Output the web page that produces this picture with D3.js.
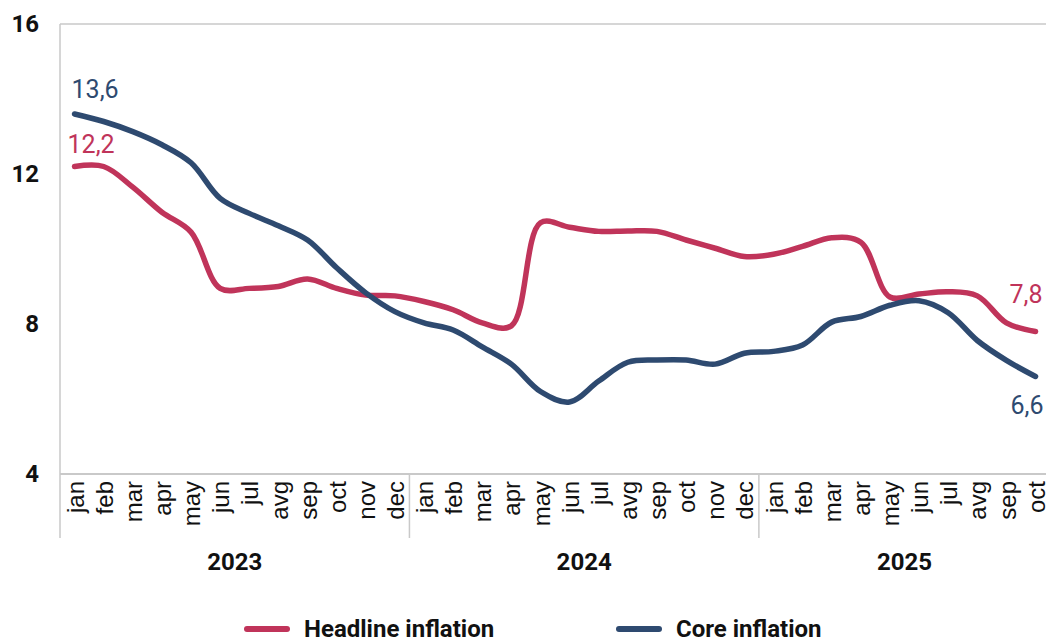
<!DOCTYPE html>
<html>
<head>
<meta charset="utf-8">
<script src="https://cdn.jsdelivr.net/npm/d3@7"></script>
<style>
  body { margin: 0; background: #fff; }
  svg { display: block; }
</style>
</head>
<body>
<svg id="chart"></svg>
<script>
// data
const years = ['2023', '2024', '2025'];
const monthNames = ['jan','feb','mar','apr','may','jun','jul','avg','sep','oct','nov','dec'];
const headline = [
  12.2, 12.2, 11.65, 10.98, 10.45, 8.95, 8.95, 9.0, 9.2, 8.95, 8.77, 8.75,
  8.6, 8.38, 8.03, 7.95, 10.7, 10.58, 10.47, 10.48, 10.47, 10.24, 10.02, 9.8,
  9.86, 10.07, 10.3, 10.18, 8.72, 8.8, 8.86, 8.75, 8.03, 7.8
];
const core = [
  13.6, 13.4, 13.13, 12.78, 12.3, 11.35, 10.95, 10.62, 10.24, 9.5, 8.83, 8.33,
  8.03, 7.84, 7.39, 6.93, 6.2, 5.92, 6.48, 6.98, 7.04, 7.04, 6.93, 7.22,
  7.27, 7.44, 8.05, 8.2, 8.5, 8.62, 8.3, 7.56, 7.03, 6.6
];
const yTicks = [4, 8, 12, 16];

// months list with year
const months = [];
years.forEach(y => monthNames.forEach(m => months.push({ year: y, month: m, key: y + '-' + m })));
months.length = headline.length;

const width = 1046, height = 639;
const margin = { left: 60, top: 24 };
const plotBottom = 474;
const plotRight = 60 + 34 * 29.12;

const red = '#c0345a';
const blue = '#2e4a70';
const grid = '#c9c9c9';

const svg = d3.select('#chart')
  .attr('width', width)
  .attr('height', height);

const x = d3.scaleBand()
  .domain(months.map(d => d.key))
  .range([margin.left, plotRight])
  .padding(0);

const y = d3.scaleLinear()
  .domain([4, 16])
  .range([plotBottom, margin.top]);

const cx = i => x(months[i].key) + x.bandwidth() / 2;

// frame
svg.append('line')
  .attr('x1', margin.left).attr('x2', width)
  .attr('y1', y(16)).attr('y2', y(16))
  .attr('stroke', grid).attr('stroke-width', 1.5);

svg.append('line')
  .attr('x1', margin.left).attr('x2', width)
  .attr('y1', y(4)).attr('y2', y(4))
  .attr('stroke', grid).attr('stroke-width', 2);

svg.append('line')
  .attr('x1', margin.left).attr('x2', margin.left)
  .attr('y1', y(16)).attr('y2', 538)
  .attr('stroke', grid).attr('stroke-width', 1.5);

// year separators
years.slice(1).forEach(yr => {
  const xs = x(yr + '-jan');
  svg.append('line')
    .attr('x1', xs).attr('x2', xs)
    .attr('y1', y(4)).attr('y2', 538)
    .attr('stroke', grid).attr('stroke-width', 1.5);
});

// y axis
const yAxis = svg.append('g')
  .attr('transform', `translate(${margin.left},0)`)
  .call(d3.axisLeft(y).tickValues(yTicks).tickSize(0).tickPadding(21));
yAxis.select('.domain').remove();
yAxis.selectAll('text')
  .attr('font-family', 'Roboto, sans-serif')
  .attr('font-size', 24)
  .attr('font-weight', 700)
  .attr('fill', '#111');

// month labels
const xAxis = svg.append('g')
  .attr('transform', `translate(0,${plotBottom})`)
  .call(d3.axisBottom(x).tickSize(0).tickFormat(k => k.split('-')[1]));
xAxis.select('.domain').remove();
xAxis.selectAll('text')
  .attr('font-family', '"Liberation Sans", Arial, sans-serif')
  .attr('font-size', 24)
  .attr('fill', '#111')
  .attr('text-anchor', 'end')
  .attr('transform', 'rotate(-90)')
  .attr('x', -7)
  .attr('y', 0)
  .attr('dy', '0.38em');

// year labels, centred under their months
years.forEach(yr => {
  const ks = months.filter(d => d.year === yr).map(d => d.key);
  const x0 = x(ks[0]);
  const x1 = x(ks[ks.length - 1]) + x.bandwidth();
  svg.append('text')
    .attr('x', (x0 + x1) / 2)
    .attr('y', 570)
    .attr('text-anchor', 'middle')
    .attr('font-family', 'Roboto, sans-serif')
    .attr('font-size', 24)
    .attr('font-weight', 700)
    .attr('fill', '#111')
    .text(yr);
});

// lines
const line = d3.line()
  .x((d, i) => cx(i))
  .y(d => y(d))
  .curve(d3.curveCatmullRom.alpha(0.5));

svg.append('path')
  .datum(headline)
  .attr('d', line)
  .attr('fill', 'none')
  .attr('stroke', red)
  .attr('stroke-width', 5.5)
  .attr('stroke-linecap', 'round')
  .attr('stroke-linejoin', 'round');

svg.append('path')
  .datum(core)
  .attr('d', line)
  .attr('fill', 'none')
  .attr('stroke', blue)
  .attr('stroke-width', 5.5)
  .attr('stroke-linecap', 'round')
  .attr('stroke-linejoin', 'round');

// data labels
const fmt = v => String(v).replace('.', ',');
const last = headline.length - 1;
const labels = [
  { v: core[0], x: cx(0) - 3, y: y(core[0]) - 16, anchor: 'start', c: blue },
  { v: headline[0], x: cx(0) - 7, y: y(headline[0]) - 14, anchor: 'start', c: red },
  { v: headline[last], x: cx(last) + 7, y: y(headline[last]) - 29, anchor: 'end', c: red },
  { v: core[last], x: cx(last) + 8, y: y(core[last]) + 37, anchor: 'end', c: blue }
];
svg.selectAll('.dlabel')
  .data(labels)
  .join('text')
  .attr('class', 'dlabel')
  .attr('x', d => d.x)
  .attr('y', d => d.y)
  .attr('text-anchor', d => d.anchor)
  .attr('font-family', 'Roboto, sans-serif')
  .attr('font-size', 25)
  .attr('fill', d => d.c)
  .text(d => fmt(d.v));

// legend
const legend = [
  { name: 'Headline inflation', c: red, x: 244 },
  { name: 'Core inflation', c: blue, x: 616 }
];
const lg = svg.selectAll('.legend')
  .data(legend)
  .join('g')
  .attr('class', 'legend')
  .attr('transform', d => `translate(${d.x},629)`);
lg.append('line')
  .attr('x1', 3).attr('x2', 43)
  .attr('stroke', d => d.c)
  .attr('stroke-width', 6)
  .attr('stroke-linecap', 'round');
lg.append('text')
  .attr('x', 60)
  .attr('y', 8)
  .attr('font-family', 'Roboto, sans-serif')
  .attr('font-size', 24)
  .attr('font-weight', 700)
  .attr('fill', '#111')
  .text(d => d.name);
</script>
</body>
</html>
